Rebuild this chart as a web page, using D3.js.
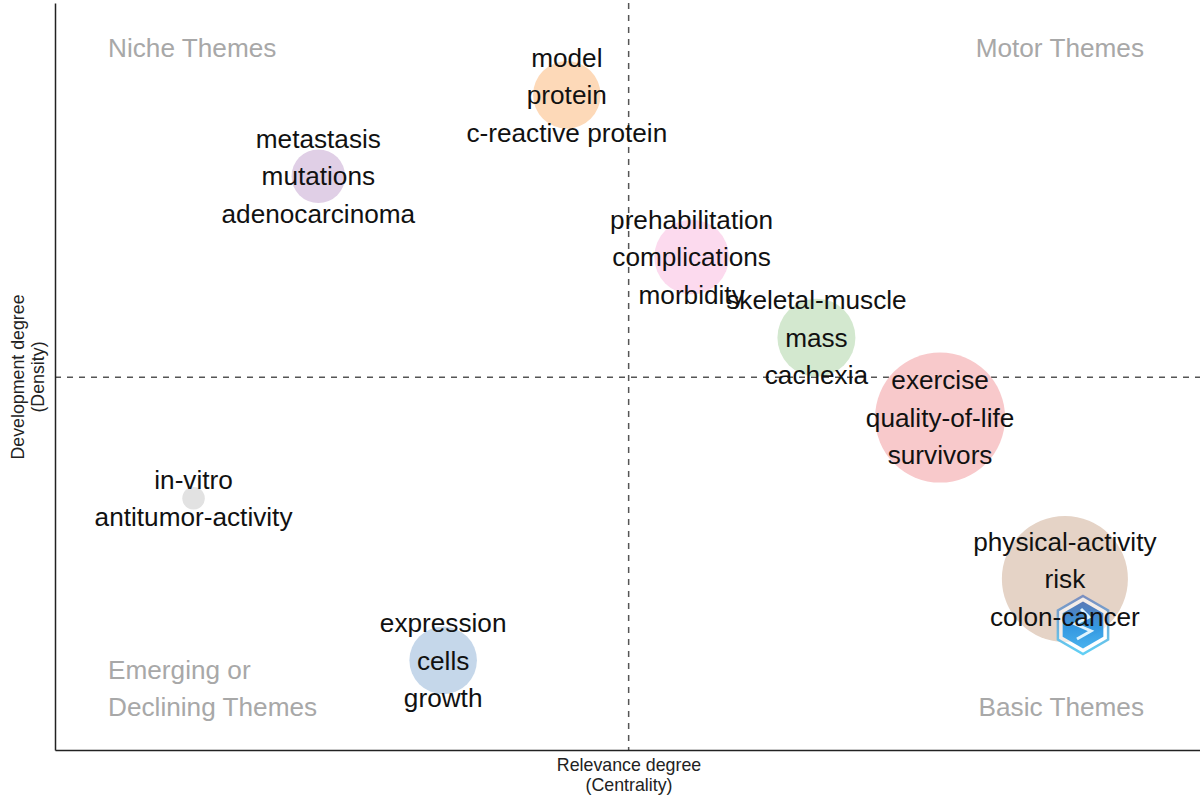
<!DOCTYPE html>
<html>
<head>
<meta charset="utf-8">
<script src="https://cdn.jsdelivr.net/npm/d3@7"></script>
<style>
  html, body { margin: 0; padding: 0; background: #fff; }
  svg { display: block; }
  text { font-family: "Liberation Sans", Arial, sans-serif; }
</style>
</head>
<body>
<svg width="1200" height="803"></svg>
<script>
// values, both axes on a 0-100 scale
var clusterLabels = [
    ['model', 'protein', 'c-reactive protein'],
    ['metastasis', 'mutations', 'adenocarcinoma'],
    ['prehabilitation', 'complications', 'morbidity'],
    ['skeletal-muscle', 'mass', 'cachexia'],
    ['exercise', 'quality-of-life', 'survivors'],
    ['physical-activity', 'risk', 'colon-cancer'],
    ['in-vitro', 'antitumor-activity'],
    ['expression', 'cells', 'growth']
];
var centrality = [44.7, 23.0, 55.6, 66.5, 77.3, 88.2, 12.1, 33.9];
var density = [87.7, 76.8, 66.0, 55.2, 44.5, 22.9, 33.7, 12.0];
var frequency = [27, 17, 33, 36, 100, 94, 3, 27];
var clusterColors = ['#fdd9b8', '#e0cfe6', '#fcdaee', '#d3e8cf', '#f8c9cb', '#e5d3c6', '#e2e2e2', '#c5d7ea'];

var quadrantNames = [
    {lines: ['Niche Themes'], side: 'left', row: 'top'},
    {lines: ['Motor Themes'], side: 'right', row: 'top'},
    {lines: ['Emerging or', 'Declining Themes'], side: 'left', row: 'bottom'},
    {lines: ['Basic Themes'], side: 'right', row: 'bottom'}
];
var centralityMean = 50.1;
var densityMean = 49.9;

var svg = d3.select('svg');

var x = d3.scaleLinear().domain([0, 100]).range([55, 1200]);
var y = d3.scaleLinear().domain([0, 100]).range([750, 3]);
var r = d3.scaleSqrt().domain([0, 100]).range([0, 65]);

// mean lines
svg.append('line')
    .attr('x1', x(centralityMean)).attr('x2', x(centralityMean))
    .attr('y1', y(100)).attr('y2', y(0))
    .attr('stroke', '#555').attr('stroke-width', 1.5)
    .attr('stroke-dasharray', '6,6');
svg.append('line')
    .attr('x1', x(0)).attr('x2', x(100))
    .attr('y1', y(densityMean)).attr('y2', y(densityMean))
    .attr('stroke', '#555').attr('stroke-width', 1.5)
    .attr('stroke-dasharray', '6,6');

// axes without ticks, only the domain line is left
svg.append('g')
    .attr('transform', 'translate(0,' + y(0) + ')')
    .call(d3.axisBottom(x).tickValues([]).tickSize(0))
    .select('.domain').attr('stroke', '#222').attr('stroke-width', 1.5);
svg.append('g')
    .attr('transform', 'translate(' + x(0) + ',0)')
    .call(d3.axisLeft(y).tickValues([]).tickSize(0))
    .select('.domain').attr('stroke', '#222').attr('stroke-width', 1.5);

// bubbles
svg.selectAll('.bubble')
    .data(clusterLabels)
    .enter()
    .append('circle')
        .attr('class', 'bubble')
        .attr('cx', function (d, i) { return x(centrality[i]); })
        .attr('cy', function (d, i) { return y(density[i]); })
        .attr('r', function (d, i) { return r(frequency[i]); })
        .attr('fill', function (d, i) { return clusterColors[i]; })
;

// hexagon logo, goes under the labels so colon-cancer stays readable
var defs = svg.append('defs');
var grad = defs.append('linearGradient').attr('id', 'logoFill')
    .attr('x1', 0).attr('y1', 0).attr('x2', 0).attr('y2', 1);
grad.append('stop').attr('offset', '0%').attr('stop-color', '#4a6db0');
grad.append('stop').attr('offset', '55%').attr('stop-color', '#1f8fe0');
grad.append('stop').attr('offset', '100%').attr('stop-color', '#35a9ec');
var rim = defs.append('linearGradient').attr('id', 'logoRim')
    .attr('x1', 0).attr('y1', 0).attr('x2', 0).attr('y2', 1);
rim.append('stop').attr('offset', '0%').attr('stop-color', '#7b8fc0');
rim.append('stop').attr('offset', '100%').attr('stop-color', '#62d0f5');

function hexPath(radius) {
    var pts = d3.range(6).map(function (i) {
        var a = Math.PI / 3 * i - Math.PI / 2;
        return [radius * Math.cos(a), radius * Math.sin(a)];
    });
    return d3.line()(pts) + 'Z';
}
var logo = svg.append('g').attr('transform', 'translate(1083,625)');
logo.append('path').attr('d', hexPath(29)).attr('fill', '#fff').attr('fill-opacity', 0.6)
    .attr('stroke', 'url(#logoRim)').attr('stroke-width', 2.5);
logo.append('path').attr('d', hexPath(23.5)).attr('fill', 'url(#logoFill)').attr('fill-opacity', 0.9);
logo.append('path').attr('d', 'M-2,-16L6,-8L-8,-1L8,6L-6,14')
    .attr('fill', 'none').attr('stroke', '#dff3fd').attr('stroke-width', 3);

// cluster labels, 37.5px between lines
var lineGap = 37.5;
clusterLabels.forEach(function (lines, i) {
    lines.forEach(function (word, k) {
        svg.append('text')
            .attr('x', x(centrality[i]))
            .attr('y', y(density[i]) + (k - (lines.length - 1) / 2) * lineGap)
            .attr('dy', '0.35em')
            .attr('text-anchor', 'middle')
            .attr('font-size', 26.2)
            .attr('fill', '#111')
            .text(word);
    });
});

// quadrant names
quadrantNames.forEach(function (q) {
    var last = q.lines.length - 1;
    q.lines.forEach(function (line, k) {
        var baseY = q.row === 'top' ? 48 : 707 - (last - k) * 37;
        svg.append('text')
            .attr('x', q.side === 'left' ? 108 : 1144)
            .attr('y', baseY)
            .attr('dy', '0.35em')
            .attr('text-anchor', q.side === 'left' ? 'start' : 'end')
            .attr('font-size', 26.2)
            .attr('fill', '#a8a8a8')
            .text(line);
    });
});

// axis titles
svg.append('text').attr('x', 629).attr('y', 771).attr('text-anchor', 'middle')
    .attr('font-size', 17.8).attr('fill', '#222').text('Relevance degree');
svg.append('text').attr('x', 629).attr('y', 791).attr('text-anchor', 'middle')
    .attr('font-size', 17.8).attr('fill', '#222').text('(Centrality)');
svg.append('text').attr('transform', 'translate(24,377) rotate(-90)').attr('text-anchor', 'middle')
    .attr('font-size', 17.8).attr('fill', '#222').text('Development degree');
svg.append('text').attr('transform', 'translate(44,377) rotate(-90)').attr('text-anchor', 'middle')
    .attr('font-size', 17.8).attr('fill', '#222').text('(Density)');
</script>
</body>
</html>
